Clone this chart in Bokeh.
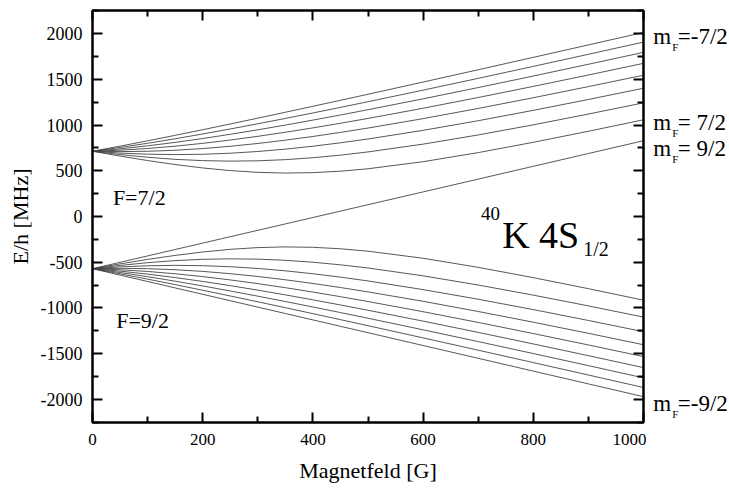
from bokeh.plotting import figure
from bokeh.models import Range1d, LinearAxis, FixedTicker, Label, ColumnDataSource
from bokeh.layouts import row
from bokeh.core.properties import value
from bokeh.embed import file_html
from bokeh.resources import INLINE

# Magnetic field samples [G]
B = [0, 50, 100, 150, 200, 250, 300, 350, 400, 450, 500, 600, 700, 800, 900, 1000]

# F=7/2 manifold (upper at B=0), m_F = -7/2 ... 7/2  [MHz]
F72_m_m72 = [714.3, 770.2, 828.4, 888.5, 950.1, 1012.9, 1076.6, 1141.1, 1206.3, 1272.0, 1338.2, 1471.7, 1606.4, 1741.9, 1878.2, 2015.0]
F72_m_m52 = [714.3, 755.7, 801.5, 850.9, 903.3, 958.1, 1015.0, 1073.5, 1133.4, 1194.5, 1256.6, 1383.1, 1512.2, 1643.2, 1775.6, 1909.2]
F72_m_m32 = [714.3, 740.9, 773.6, 811.4, 853.7, 899.8, 949.0, 1000.9, 1055.1, 1111.2, 1168.9, 1288.1, 1411.4, 1537.7, 1666.4, 1796.8]
F72_m_m12 = [714.3, 725.8, 744.5, 769.7, 800.7, 837.0, 877.7, 922.2, 970.0, 1020.6, 1073.5, 1185.0, 1302.4, 1424.1, 1549.1, 1676.6]
F72_m_p12 = [714.3, 710.4, 714.0, 725.2, 743.6, 768.5, 799.4, 835.5, 876.0, 920.4, 968.1, 1071.3, 1182.8, 1300.1, 1421.7, 1546.6]
F72_m_p32 = [714.3, 694.5, 682.1, 677.6, 681.1, 692.6, 711.6, 737.5, 769.4, 806.7, 848.5, 943.0, 1048.6, 1162.0, 1280.9, 1404.0]
F72_m_p52 = [714.3, 678.2, 648.4, 625.8, 611.5, 606.0, 609.7, 622.3, 643.3, 671.8, 706.8, 792.2, 892.8, 1003.6, 1121.5, 1244.3]
F72_m_p72 = [714.3, 661.5, 612.6, 568.7, 531.4, 502.4, 483.3, 475.6, 480.0, 496.1, 522.5, 599.9, 699.4, 812.2, 933.0, 1058.9]

# F=9/2 manifold (lower at B=0), m_F = -9/2 ... 9/2  [MHz]
F92_m_m92 = [-571.5, -641.5, -711.6, -781.7, -851.7, -921.8, -991.8, -1061.9, -1131.9, -1202.0, -1272.1, -1412.2, -1552.3, -1692.4, -1832.5, -1972.6]
F92_m_m72 = [-571.5, -627.4, -685.6, -745.7, -807.3, -870.0, -933.7, -998.2, -1063.4, -1129.1, -1195.3, -1328.8, -1463.5, -1599.1, -1735.3, -1872.2]
F92_m_m52 = [-571.5, -612.9, -658.7, -708.1, -760.4, -815.3, -872.1, -930.6, -990.5, -1051.6, -1113.7, -1240.3, -1369.3, -1500.3, -1632.7, -1766.3]
F92_m_m32 = [-571.5, -598.1, -630.7, -668.5, -710.8, -756.9, -806.1, -858.1, -912.2, -968.3, -1026.0, -1145.3, -1268.6, -1394.9, -1523.5, -1653.9]
F92_m_m12 = [-571.5, -583.0, -601.6, -626.8, -657.9, -694.1, -734.8, -779.4, -827.2, -877.7, -930.7, -1042.2, -1159.6, -1281.3, -1406.2, -1533.7]
F92_m_p12 = [-571.5, -567.5, -571.2, -582.4, -600.7, -625.7, -656.5, -692.6, -733.1, -777.5, -825.2, -928.4, -1039.9, -1157.2, -1278.8, -1403.8]
F92_m_p32 = [-571.5, -551.6, -539.2, -534.7, -538.3, -549.8, -568.8, -594.6, -626.6, -663.8, -705.6, -800.2, -905.7, -1019.1, -1138.1, -1261.2]
F92_m_p52 = [-571.5, -535.4, -505.5, -483.0, -468.6, -463.2, -466.9, -479.5, -500.5, -528.9, -563.9, -649.3, -749.9, -860.8, -978.6, -1101.4]
F92_m_p72 = [-571.5, -518.6, -469.7, -425.9, -388.6, -359.5, -340.4, -332.8, -337.2, -353.2, -379.7, -457.1, -556.6, -669.3, -790.2, -916.1]
F92_m_p92 = [-571.5, -501.5, -431.4, -361.3, -291.3, -221.3, -151.2, -81.1, -11.1, 59.0, 129.1, 269.2, 409.3, 549.4, 689.5, 829.5]

# Axis ticks
x_ticks = [0, 200, 400, 600, 800, 1000]
x_tick_labels = ["0", "200", "400", "600", "800", "1000"]
x_minor = [100, 300, 500, 700, 900]
y_ticks = [-2000, -1500, -1000, -500, 0, 500, 1000, 1500, 2000]
y_tick_labels = ["-2000", "-1500", "-1000", "-500", "0", "500", "1000", "1500", "2000"]
y_minor = [-2250, -1750, -1250, -750, -250, 250, 750, 1250, 1750, 2250]

# Right-hand state labels
mf_values = ["=-7/2", "= 7/2", "= 9/2", "=-9/2"]
mf_label_y = [1975, 1034, 743, -2044]

series = [F72_m_m72, F72_m_m52, F72_m_m32, F72_m_m12, F72_m_p12, F72_m_p32, F72_m_p52, F72_m_p72,
          F92_m_m92, F92_m_m72, F92_m_m52, F92_m_m32, F92_m_m12, F92_m_p12, F92_m_p32, F92_m_p52,
          F92_m_p72, F92_m_p92]

FONT = "'Liberation Serif', 'Times New Roman', serif"

p = figure(width=646, height=488, output_backend="svg", toolbar_location=None, title_location=None,
           x_range=Range1d(0, 1000), y_range=Range1d(-2255, 2255),
           min_border_left=92, min_border_right=3, min_border_top=10, min_border_bottom=66,
           background_fill_color="white", border_fill_color="white")
p.xgrid.visible = False
p.ygrid.visible = False
p.outline_line_color = "black"
p.outline_line_width = 2

src = ColumnDataSource(dict(xs=[B] * len(series), ys=series))
p.multi_line("xs", "ys", source=src, line_color="#444444", line_width=0.9)

def style_axis(ax, ticks, minor, labels, show_labels, tick_size="17px"):
    ax.ticker = FixedTicker(ticks=ticks, minor_ticks=minor)
    ax.axis_line_width = 2
    ax.axis_line_color = "black"
    ax.major_tick_in = 10
    ax.major_tick_out = 0
    ax.minor_tick_in = 6
    ax.minor_tick_out = 0
    ax.major_tick_line_width = 2
    ax.minor_tick_line_width = 2
    ax.major_tick_line_color = "black"
    ax.minor_tick_line_color = "black"
    if show_labels:
        ax.major_label_overrides = {t: l for t, l in zip(ticks, labels)}
        ax.major_label_text_font = FONT
        ax.major_label_text_font_size = tick_size
        ax.major_label_text_color = "black"
        ax.axis_label_text_font = FONT
        ax.axis_label_text_font_size = "22px"
        ax.axis_label_text_font_style = "normal"
        ax.axis_label_text_color = "black"
    else:
        ax.major_label_text_font_size = "0px"
        ax.major_label_standoff = 0

xa = p.xaxis[0]
style_axis(xa, x_ticks, x_minor, x_tick_labels, True, "17px")
xa.axis_label = "Magnetfeld [G]"
xa.major_label_standoff = 11
xa.axis_label_standoff = 10

ya = p.yaxis[0]
style_axis(ya, y_ticks, y_minor, y_tick_labels, True, "18px")
ya.axis_label = "E/h [MHz]"
ya.major_label_standoff = 10
ya.axis_label_standoff = 5

top = LinearAxis()
style_axis(top, x_ticks, x_minor, x_tick_labels, False)
p.add_layout(top, "above")
right = LinearAxis()
style_axis(right, y_ticks, y_minor, y_tick_labels, False)
p.add_layout(right, "right")

def lab(x, y, text, size):
    p.add_layout(Label(x=x, y=y, text=text, text_font=FONT, text_font_size=size,
                       text_color="black", text_baseline="alphabetic", text_align="left"))

lab(37, 207, "F=7/2", "22px")
lab(43, -1136, "F=9/2", "22px")

lab(705, 32, "40", "19px")
lab(743.5, -198, "K 4S", "38px")
lab(890.5, -351, "1/2", "20px")

# Narrow side panel for the m_F labels (shares the energy axis)
p2 = figure(width=83, height=488, output_backend="svg", toolbar_location=None, title_location=None,
            x_range=Range1d(646, 729), y_range=p.y_range,
            x_axis_location=None, y_axis_location=None,
            min_border_left=0, min_border_right=0, min_border_top=10, min_border_bottom=66,
            outline_line_color=None, background_fill_color="white", border_fill_color="white")
p2.xgrid.visible = False
p2.ygrid.visible = False

n = len(mf_values)
p2.text(x=[652.7] * n, y=mf_label_y, text=["m"] * n, text_font=value(FONT),
        text_font_size=value("23px"), text_color="black", text_baseline="alphabetic")
p2.text(x=[671.7] * n, y=[v - 115 for v in mf_label_y], text=["F"] * n, text_font=value(FONT),
        text_font_size=value("11px"), text_color="black", text_baseline="alphabetic")
p2.text(x=[677.3] * n, y=mf_label_y, text=mf_values, text_font=value(FONT),
        text_font_size=value("23px"), text_color="black", text_baseline="alphabetic")

layout = row(p, p2, spacing=0)
open("out.html", "w").write(file_html(layout, INLINE))
